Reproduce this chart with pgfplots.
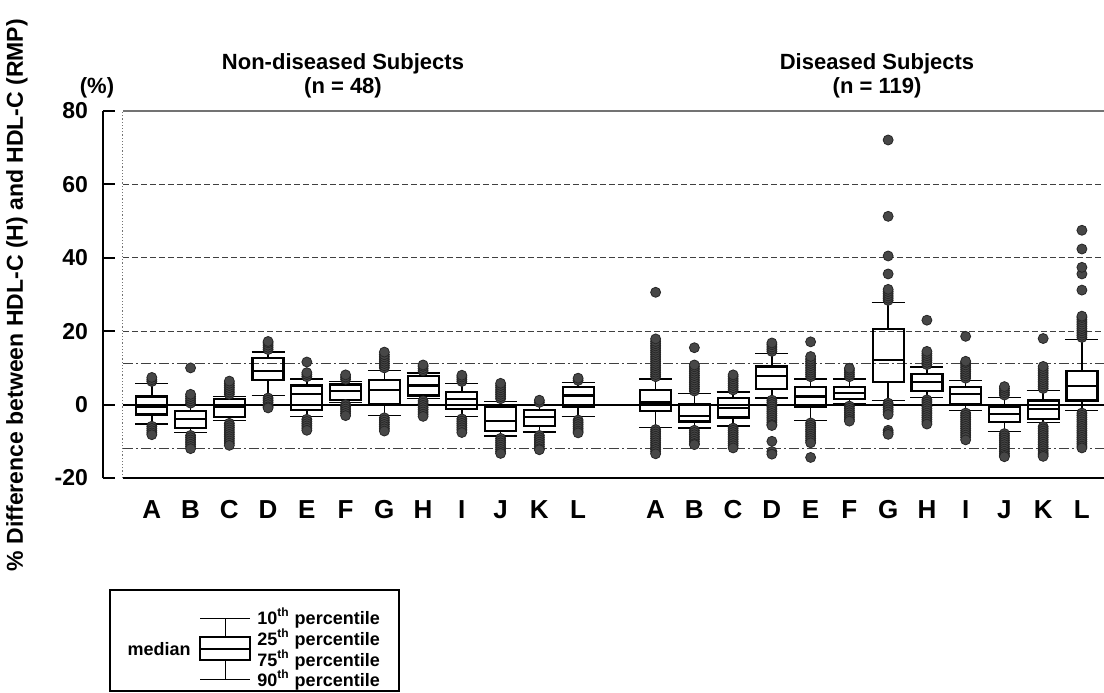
\documentclass[border=0pt]{standalone}
\usepackage{fontspec}
\setmainfont{Liberation Sans}
\usepackage{pgfplots}
\pgfplotsset{compat=1.18}
\usepgfplotslibrary{statistics}
\pgfplotsset{bx/.style={black, line width=1.1pt, mark=*, mark size=2.5pt,
  mark options={fill=black!72, draw=black!85, line width=0.4pt, solid},
  boxplot/draw direction=y,
  boxplot/box extend=0.8, boxplot/whisker extend=0.85,
  boxplot/every whisker/.style={line width=0.7pt},
  boxplot/every median/.style={line width=1.1pt}}}
\begin{document}
\begin{tikzpicture}
\path[use as bounding box] (-51.5pt,-107pt) rectangle (500.5pt,239pt);
\begin{axis}[
 at={(0pt,0pt)}, anchor=south west, scale only axis, width=500.5pt, height=183.5pt,
 xmin=-1.26, xmax=24.57, ymin=-20, ymax=80, clip=false,
 axis lines*=left, axis line style={-}, x axis line style={draw=none},
 y axis line style={line width=1pt},
 ytick={-20,0,20,40,60,80}, tick align=inside, major tick length=6pt,
 ytick style={line width=1pt,black},
 xtick={0,1,...,11,13,14,...,24},
 xticklabels={A,B,C,D,E,F,G,H,I,J,K,L,A,B,C,D,E,F,G,H,I,J,K,L},
 xtick style={draw=none},
 xticklabel style={font=\bfseries\fontsize{13}{13}\selectfont, anchor=center, yshift=-16pt},
 yticklabel style={font=\bfseries\fontsize{11.5}{12}\selectfont, xshift=-4pt},
 /pgf/number format/assume math mode=true,
]
% frame and reference lines
\draw[black!55, line width=0.6pt] (-0.75,80) -- (24.57,80);
\draw[black!55, line width=0.6pt, densely dotted] (-0.75,-20) -- (-0.75,80);
\foreach \g in {20,40,60}{\edef\tmp{\noexpand\draw[black!75, line width=0.6pt, dash pattern=on 3pt off 1.5pt] (-0.75,\g) -- (24.57,\g);}\tmp}
\draw[black!75, line width=0.6pt, dash pattern=on 5pt off 1.5pt on 1pt off 1.5pt] (-0.75,11.3) -- (24.57,11.3);
\draw[black!75, line width=0.6pt, dash pattern=on 5pt off 1.5pt on 1pt off 1.5pt] (-0.75,-12) -- (24.57,-12);
\draw[black, line width=1.1pt] (-0.75,0) -- (24.57,0);
\draw[black, line width=1.4pt] (-0.75,-20) -- (24.57,-20);

% ---- Non-diseased subjects ----
\addplot[bx, boxplot prepared={draw position=0, lower whisker=-5.3, lower quartile=-2.7, median=-0.5, upper quartile=2.2, upper whisker=5.7}]
 table[row sep=\\, y=v] {v\\ 6.3\\ 6.8\\ 7.4\\ -5.9\\ -6.5\\ -7.1\\ -7.7\\ -8.2\\};
\addplot[bx, boxplot prepared={draw position=1, lower whisker=-7.6, lower quartile=-6.4, median=-4.0, upper quartile=-1.8, upper whisker=-0.3}]
 table[row sep=\\, y=v] {v\\ 0.4\\ 1.0\\ 1.6\\ 2.2\\ 2.8\\ 10.0\\ -8.4\\ -9.0\\ -9.6\\ -10.2\\ -10.8\\ -11.4\\ -12.0\\};
\addplot[bx, boxplot prepared={draw position=2, lower whisker=-4.4, lower quartile=-3.3, median=-0.6, upper quartile=1.5, upper whisker=2.2}]
 table[row sep=\\, y=v] {v\\ 2.8\\ 3.4\\ 4.0\\ 4.6\\ 5.2\\ 5.8\\ 6.4\\ -5.1\\ -5.7\\ -6.3\\ -6.9\\ -7.5\\ -8.1\\ -8.7\\ -9.3\\ -9.9\\ -10.5\\ -11.1\\};
\addplot[bx, boxplot prepared={draw position=3, lower whisker=2.5, lower quartile=6.8, median=9.2, upper quartile=12.8, upper whisker=14.3}]
 table[row sep=\\, y=v] {v\\ 15.0\\ 15.6\\ 16.2\\ 16.8\\ 17.2\\ 1.8\\ 1.2\\ 0.6\\ 0.0\\ -0.6\\ -0.9\\};
\addplot[bx, boxplot prepared={draw position=4, lower whisker=-3.3, lower quartile=-1.5, median=2.9, upper quartile=5.2, upper whisker=7.0}]
 table[row sep=\\, y=v] {v\\ 7.6\\ 8.2\\ 8.7\\ 11.6\\ -4.0\\ -4.6\\ -5.2\\ -5.8\\ -6.4\\ -7.0\\};
\addplot[bx, boxplot prepared={draw position=5, lower whisker=0.6, lower quartile=1.3, median=3.6, upper quartile=5.5, upper whisker=6.3}]
 table[row sep=\\, y=v] {v\\ 6.9\\ 7.5\\ 8.1\\ 0.0\\ -0.6\\ -1.2\\ -1.8\\ -2.4\\ -3.0\\};
\addplot[bx, boxplot prepared={draw position=6, lower whisker=-3.0, lower quartile=0.2, median=3.9, upper quartile=6.6, upper whisker=9.3}]
 table[row sep=\\, y=v] {v\\ 10.0\\ 10.6\\ 11.2\\ 11.8\\ 12.4\\ 13.0\\ 13.6\\ 14.3\\ -3.6\\ -4.2\\ -4.8\\ -5.4\\ -6.0\\ -6.6\\ -7.2\\};
\addplot[bx, boxplot prepared={draw position=7, lower whisker=1.6, lower quartile=2.5, median=5.2, upper quartile=7.9, upper whisker=8.6}]
 table[row sep=\\, y=v] {v\\ 9.2\\ 9.8\\ 10.4\\ 10.8\\ 1.0\\ 0.4\\ -0.2\\ -0.8\\ -1.4\\ -2.0\\ -2.6\\ -3.2\\};
\addplot[bx, boxplot prepared={draw position=8, lower whisker=-3.3, lower quartile=-1.2, median=1.6, upper quartile=3.4, upper whisker=5.7}]
 table[row sep=\\, y=v] {v\\ 6.3\\ 6.9\\ 7.5\\ 8.0\\ -3.9\\ -4.5\\ -5.1\\ -5.7\\ -6.3\\ -6.9\\ -7.6\\};
\addplot[bx, boxplot prepared={draw position=9, lower whisker=-8.5, lower quartile=-7.3, median=-4.4, upper quartile=-0.5, upper whisker=0.9}]
 table[row sep=\\, y=v] {v\\ 1.6\\ 2.2\\ 2.8\\ 3.4\\ 4.0\\ 4.6\\ 5.2\\ 5.8\\ -9.2\\ -9.8\\ -10.4\\ -11.0\\ -11.6\\ -12.2\\ -12.8\\ -13.3\\};
\addplot[bx, boxplot prepared={draw position=10, lower whisker=-7.5, lower quartile=-5.8, median=-3.3, upper quartile=-1.5, upper whisker=0.0}]
 table[row sep=\\, y=v] {v\\ 0.6\\ 1.2\\ -8.4\\ -9.0\\ -9.6\\ -10.2\\ -10.8\\ -11.4\\ -12.0\\ -12.3\\};
\addplot[bx, boxplot prepared={draw position=11, lower whisker=-3.3, lower quartile=-0.7, median=2.5, upper quartile=4.9, upper whisker=6.1}]
 table[row sep=\\, y=v] {v\\ 6.6\\ 7.2\\ -4.2\\ -4.8\\ -5.4\\ -6.0\\ -6.6\\ -7.2\\ -7.7\\};

% ---- Diseased subjects ----
\addplot[bx, boxplot prepared={draw position=13, lower whisker=-6.2, lower quartile=-1.8, median=0.6, upper quartile=4.0, upper whisker=7.0}]
 table[row sep=\\, y=v] {v\\ 7.6\\ 8.2\\ 8.8\\ 9.4\\ 10.0\\ 10.6\\ 11.2\\ 11.8\\ 12.4\\ 13.0\\ 13.6\\ 14.2\\ 14.8\\ 15.4\\ 16.0\\ 16.6\\ 17.2\\ 17.9\\ 30.6\\ -6.8\\ -7.4\\ -8.0\\ -8.6\\ -9.2\\ -9.8\\ -10.4\\ -11.0\\ -11.6\\ -12.2\\ -12.8\\ -13.4\\};
\addplot[bx, boxplot prepared={draw position=14, lower whisker=-6.4, lower quartile=-4.6, median=-3.0, upper quartile=0.2, upper whisker=3.1}]
 table[row sep=\\, y=v] {v\\ 3.7\\ 4.3\\ 4.9\\ 5.5\\ 6.1\\ 6.7\\ 7.3\\ 7.9\\ 8.5\\ 9.1\\ 9.7\\ 10.3\\ 10.8\\ 15.5\\ -7.0\\ -7.6\\ -8.2\\ -8.8\\ -9.4\\ -10.0\\ -10.6\\ -10.9\\};
\addplot[bx, boxplot prepared={draw position=15, lower whisker=-5.8, lower quartile=-3.5, median=-0.9, upper quartile=1.8, upper whisker=3.4}]
 table[row sep=\\, y=v] {v\\ 4.0\\ 4.6\\ 5.2\\ 5.8\\ 6.4\\ 7.0\\ 7.6\\ 8.1\\ -6.4\\ -7.0\\ -7.6\\ -8.2\\ -8.8\\ -9.4\\ -10.0\\ -10.6\\ -11.2\\ -11.8\\};
\addplot[bx, boxplot prepared={draw position=16, lower whisker=1.8, lower quartile=4.3, median=7.9, upper quartile=10.4, upper whisker=13.9}]
 table[row sep=\\, y=v] {v\\ 14.5\\ 15.1\\ 15.7\\ 16.3\\ 16.8\\ 1.2\\ 0.6\\ 0.0\\ -0.6\\ -1.2\\ -1.8\\ -2.4\\ -3.0\\ -3.6\\ -4.2\\ -4.8\\ -5.4\\ -5.7\\ -10.0\\ -12.8\\ -13.5\\};
\addplot[bx, boxplot prepared={draw position=17, lower whisker=-4.4, lower quartile=-0.7, median=2.2, upper quartile=4.7, upper whisker=7.0}]
 table[row sep=\\, y=v] {v\\ 7.6\\ 8.2\\ 8.8\\ 9.4\\ 10.0\\ 10.6\\ 11.2\\ 11.8\\ 12.4\\ 13.1\\ 17.1\\ -5.0\\ -5.6\\ -6.2\\ -6.8\\ -7.4\\ -8.0\\ -8.6\\ -9.2\\ -9.8\\ -10.4\\ -14.4\\};
\addplot[bx, boxplot prepared={draw position=18, lower whisker=0.2, lower quartile=1.6, median=3.1, upper quartile=4.7, upper whisker=7.0}]
 table[row sep=\\, y=v] {v\\ 7.6\\ 8.2\\ 8.8\\ 9.4\\ 9.9\\ -0.4\\ -1.0\\ -1.6\\ -2.2\\ -2.8\\ -3.4\\ -4.0\\ -4.5\\};
\addplot[bx, boxplot prepared={draw position=19, lower whisker=1.1, lower quartile=6.1, median=12.2, upper quartile=20.7, upper whisker=27.8}]
 table[row sep=\\, y=v] {v\\ 28.4\\ 29.0\\ 29.6\\ 30.2\\ 30.8\\ 31.4\\ 35.6\\ 40.5\\ 51.3\\ 72.1\\ 0.4\\ -0.2\\ -0.8\\ -1.4\\ -2.0\\ -2.7\\ -7.0\\ -7.6\\ -8.1\\};
\addplot[bx, boxplot prepared={draw position=20, lower whisker=2.0, lower quartile=3.8, median=6.1, upper quartile=8.4, upper whisker=10.2}]
 table[row sep=\\, y=v] {v\\ 10.9\\ 11.5\\ 12.1\\ 12.7\\ 13.3\\ 13.9\\ 14.5\\ 23.0\\ 1.3\\ 0.7\\ 0.1\\ -0.5\\ -1.1\\ -1.7\\ -2.3\\ -2.9\\ -3.5\\ -4.1\\ -4.7\\ -5.3\\};
\addplot[bx, boxplot prepared={draw position=21, lower whisker=-1.6, lower quartile=0.2, median=2.9, upper quartile=4.7, upper whisker=6.6}]
 table[row sep=\\, y=v] {v\\ 7.2\\ 7.8\\ 8.4\\ 9.0\\ 9.6\\ 10.2\\ 10.8\\ 11.4\\ 11.8\\ 18.6\\ -2.3\\ -2.9\\ -3.5\\ -4.1\\ -4.7\\ -5.3\\ -5.9\\ -6.5\\ -7.1\\ -7.7\\ -8.3\\ -8.9\\ -9.6\\};
\addplot[bx, boxplot prepared={draw position=22, lower whisker=-7.3, lower quartile=-4.7, median=-2.6, upper quartile=-0.5, upper whisker=2.0}]
 table[row sep=\\, y=v] {v\\ 2.6\\ 3.2\\ 3.8\\ 4.4\\ 4.9\\ -7.9\\ -8.5\\ -9.1\\ -9.7\\ -10.3\\ -10.9\\ -11.5\\ -12.1\\ -12.7\\ -13.3\\ -13.8\\ -14.2\\};
\addplot[bx, boxplot prepared={draw position=23, lower whisker=-4.8, lower quartile=-3.9, median=-1.2, upper quartile=1.1, upper whisker=3.8}]
 table[row sep=\\, y=v] {v\\ 4.4\\ 5.0\\ 5.6\\ 6.2\\ 6.8\\ 7.4\\ 8.0\\ 8.6\\ 9.2\\ 9.8\\ 10.4\\ 18.0\\ -6.0\\ -6.6\\ -7.2\\ -7.8\\ -8.4\\ -9.0\\ -9.6\\ -10.2\\ -10.8\\ -11.4\\ -12.0\\ -12.6\\ -13.2\\ -13.7\\ -14.1\\};
\addplot[bx, boxplot prepared={draw position=24, lower whisker=-1.6, lower quartile=1.1, median=5.0, upper quartile=9.1, upper whisker=17.7}]
 table[row sep=\\, y=v] {v\\ 18.3\\ 18.9\\ 19.5\\ 20.1\\ 20.7\\ 21.3\\ 21.9\\ 22.5\\ 23.1\\ 23.7\\ 24.1\\ 31.2\\ 35.6\\ 37.4\\ 42.4\\ 47.5\\ -2.3\\ -2.9\\ -3.5\\ -4.1\\ -4.7\\ -5.3\\ -5.9\\ -6.5\\ -7.1\\ -7.7\\ -8.3\\ -8.9\\ -9.5\\ -10.1\\ -10.7\\ -11.3\\ -11.8\\};
\end{axis}
% axis label and titles
\node[rotate=90, font=\bfseries\fontsize{11.5}{12}\selectfont] at (-43pt,91.5pt) {\% Difference between HDL-C (H) and HDL-C (RMP)};
\node[font=\bfseries\fontsize{11}{12}\selectfont] at (-3pt,195pt) {(\%)};
\node[font=\bfseries\fontsize{11}{12}\selectfont] at (120pt,207pt) {Non-diseased Subjects};
\node[font=\bfseries\fontsize{11}{12}\selectfont] at (120pt,195pt) {(n = 48)};
\node[font=\bfseries\fontsize{11}{12}\selectfont] at (387pt,207pt) {Diseased Subjects};
\node[font=\bfseries\fontsize{11}{12}\selectfont] at (387pt,195pt) {(n = 119)};
% key
\draw[black, line width=0.6pt] (3.5pt,-106.5pt) rectangle (148pt,-56pt);
\draw[black, line width=0.5pt] (48.5pt,-70pt) -- (73.5pt,-70pt) (61pt,-70pt) -- (61pt,-79.5pt)
  (48.5pt,-100.5pt) -- (73.5pt,-100.5pt) (61pt,-100.5pt) -- (61pt,-91pt);
\draw[black, line width=0.6pt] (48.5pt,-79.5pt) rectangle (73.5pt,-91pt);
\draw[black, line width=0.6pt] (48.5pt,-85.5pt) -- (73.5pt,-85.5pt);
\begin{scope}[every node/.style={font=\bfseries\fontsize{9}{10}\selectfont, anchor=west, inner sep=0pt}]
\node at (77pt,-70pt) {10\textsuperscript{th} percentile};
\node at (77pt,-80.5pt) {25\textsuperscript{th} percentile};
\node at (77pt,-91pt) {75\textsuperscript{th} percentile};
\node at (77pt,-101pt) {90\textsuperscript{th} percentile};
\node[anchor=east] at (44pt,-85.5pt) {median};
\end{scope}
\end{tikzpicture}
\end{document}
